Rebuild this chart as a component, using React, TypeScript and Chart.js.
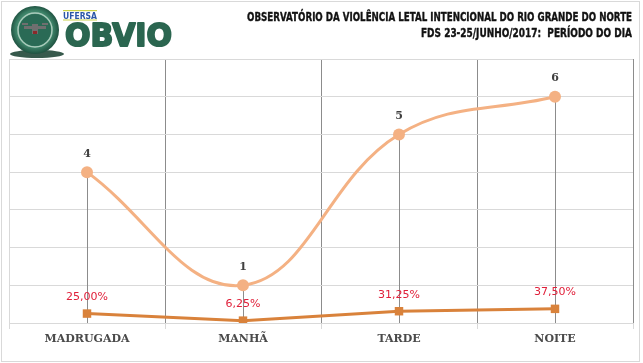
import React, { useEffect, useRef } from "react";
import { Chart, registerables } from "chart.js";

Chart.register(...registerables);

const categories = ["MADRUGADA", "MANHÃ", "TARDE", "NOITE"];
const counts = [4, 1, 5, 6];
const shares = [0.25, 0.0625, 0.3125, 0.375];
const titleLine1 = "OBSERVATÓRIO DA VIOLÊNCIA LETAL INTENCIONAL DO RIO GRANDE DO NORTE";
const titleLine2 = "FDS 23-25/JUNHO/2017:  PERÍODO DO DIA";
const yMax = 7;

function fitText(ctx: CanvasRenderingContext2D, text: string, x: number, y: number, w: number, align: "left" | "right", stroke = 0) {
  const m = ctx.measureText(text).width;
  const sx = w / m;
  ctx.save();
  ctx.translate(align === "right" ? x - w : x, y);
  ctx.scale(sx, 1);
  ctx.textAlign = "left";
  if (stroke > 0) {
    ctx.lineWidth = stroke;
    ctx.lineJoin = "round";
    ctx.strokeStyle = ctx.fillStyle as string;
    ctx.strokeText(text, 0, 0);
  }
  ctx.fillText(text, 0, 0);
  ctx.restore();
}

const framePlugin = {
  id: "frame",
  beforeDraw(chart: any) {
    const ctx = chart.ctx;
    ctx.save();
    ctx.fillStyle = "#ffffff";
    ctx.fillRect(0, 0, chart.width, chart.height);
    ctx.strokeStyle = "#d9d9d9";
    ctx.lineWidth = 1;
    ctx.strokeRect(1.5, 1.5, chart.width - 5, chart.height - 3);
    ctx.restore();
  },
  beforeDatasetsDraw(chart: any) {
    const ctx = chart.ctx;
    const meta = chart.getDatasetMeta(0);
    const bottom = chart.chartArea.bottom;
    ctx.save();
    ctx.strokeStyle = "#8c8c8c";
    ctx.lineWidth = 1;
    meta.data.forEach((p: any) => {
      const x = Math.round(p.x) + 0.5;
      ctx.beginPath();
      ctx.moveTo(x, p.y);
      ctx.lineTo(x, bottom);
      ctx.stroke();
    });
    ctx.restore();
  },
  afterDatasetsDraw(chart: any) {
    const ctx = chart.ctx;
    ctx.save();
    ctx.textAlign = "center";
    ctx.textBaseline = "middle";
    const m0 = chart.getDatasetMeta(0);
    ctx.font = "bold 11px 'DejaVu Serif'";
    ctx.fillStyle = "#404040";
    m0.data.forEach((p: any, i: number) => {
      ctx.fillText(String(counts[i]), p.x, p.y - 18.5);
    });
    const m1 = chart.getDatasetMeta(1);
    ctx.font = "11px 'DejaVu Sans'";
    ctx.fillStyle = "#e0203a";
    m1.data.forEach((p: any, i: number) => {
      const t = (shares[i] * 100).toFixed(2).replace(".", ",") + "%";
      ctx.fillText(t, p.x, p.y - 16.5);
    });
    ctx.restore();
  },
  afterDraw(chart: any) {
    const ctx = chart.ctx;
    ctx.save();
    // titles
    ctx.fillStyle = "#111111";
    ctx.font = "bold 12px 'DejaVu Sans'";
    ctx.textBaseline = "alphabetic";
    fitText(ctx, titleLine1, 632, 21, 385, "right", 0.4);
    fitText(ctx, titleLine2, 632, 36.5, 211, "right", 0.4);

    // logo shadow
    ctx.fillStyle = "rgba(20,60,45,0.85)";
    ctx.beginPath();
    ctx.ellipse(37, 54, 27, 4, 0, 0, Math.PI * 2);
    ctx.fill();
    // logo circle
    const g = ctx.createRadialGradient(33, 27, 4, 35, 30, 25);
    g.addColorStop(0, "#6cb596");
    g.addColorStop(0.7, "#3b8066");
    g.addColorStop(1, "#1a4a3a");
    ctx.fillStyle = g;
    ctx.beginPath();
    ctx.arc(35, 30, 24, 0, Math.PI * 2);
    ctx.fill();
    ctx.strokeStyle = "#a9cbbb";
    ctx.lineWidth = 1.5;
    ctx.beginPath();
    ctx.arc(35, 30, 17, 0, Math.PI * 2);
    ctx.stroke();
    ctx.fillStyle = "#2a6a55";
    ctx.beginPath();
    ctx.arc(35, 30, 16, 0, Math.PI * 2);
    ctx.fill();
    // drone silhouette
    ctx.fillStyle = "#6f6f6f";
    ctx.fillRect(24, 26, 22, 3);
    ctx.fillRect(32, 24, 6, 10);
    ctx.fillRect(22, 23, 6, 2);
    ctx.fillRect(42, 23, 6, 2);
    ctx.fillStyle = "#8a2a2a";
    ctx.fillRect(33, 31, 4, 3);

    // UFERSA
    ctx.fillStyle = "#c9d24a";
    ctx.fillRect(63, 10, 34, 1.2);
    ctx.fillStyle = "#2a56a8";
    ctx.font = "bold 9px 'DejaVu Sans'";
    fitText(ctx, "UFERSA", 63, 18.5, 34, "left");
    ctx.fillStyle = "#c9d24a";
    ctx.fillRect(63, 19.5, 34, 1);

    // OBVIO
    ctx.fillStyle = "#2b6650";
    ctx.font = "bold 32px 'DejaVu Sans'";
    fitText(ctx, "OBVIO", 65, 46, 107, "left", 2);
    ctx.restore();
  },
};

export default function App() {
  const ref = useRef<HTMLCanvasElement | null>(null);
  useEffect(() => {
    if (!ref.current) return;
    const chart = new Chart(ref.current, {
      type: "line",
      data: {
        labels: categories,
        datasets: [
          {
            data: counts,
            borderColor: "#f4b183",
            backgroundColor: "#f4b183",
            borderWidth: 3,
            pointRadius: 6,
            pointHoverRadius: 6,
            pointBorderWidth: 0,
            tension: 0.4,
          },
          {
            data: shares,
            borderColor: "#d9823b",
            backgroundColor: "#d9823b",
            borderWidth: 3,
            pointStyle: "rect",
            pointRadius: 6,
            pointHoverRadius: 6,
            pointBorderWidth: 0,
            tension: 0,
          },
        ],
      },
      options: {
        responsive: false,
        animation: false,
        devicePixelRatio: 1,
        layout: { padding: { left: 9, right: 10, top: 59, bottom: 0 } },
        plugins: {
          legend: { display: false },
          tooltip: { enabled: false },
          title: { display: false },
        },
        scales: {
          x: {
            type: "category",
            offset: true,
            grid: {
              offset: true,
              color: (c: any) => (c.index === 0 || c.index === categories.length ? "#d9d9d9" : "#8c8c8c"),
              tickColor: "#d9d9d9",
              tickLength: 6,
              lineWidth: 1,
            },
            border: { display: true, color: "#d9d9d9" },
            ticks: {
              color: "#4a4a4a",
              font: { family: "'DejaVu Serif'", weight: "bold", size: 11 },
              padding: 4,
              maxRotation: 0,
              autoSkip: false,
            },
            afterFit: (s: any) => {
              s.height = 40;
            },
          },
          y: {
            min: 0,
            max: yMax,
            ticks: { display: false, stepSize: 1 },
            grid: { color: "#d9d9d9", drawTicks: false, lineWidth: 1 },
            border: { display: false },
            afterFit: (s: any) => {
              s.width = 0;
            },
          },
        },
      },
      plugins: [framePlugin],
    });
    return () => chart.destroy();
  }, []);
  return (
    <div style={{ width: 643, height: 363, position: "relative", overflow: "hidden" }}>
      <style>{`body{margin:0;overflow:hidden;}`}</style>
      <canvas ref={ref} width={643} height={363} style={{ display: "block" }} />
    </div>
  );
}
